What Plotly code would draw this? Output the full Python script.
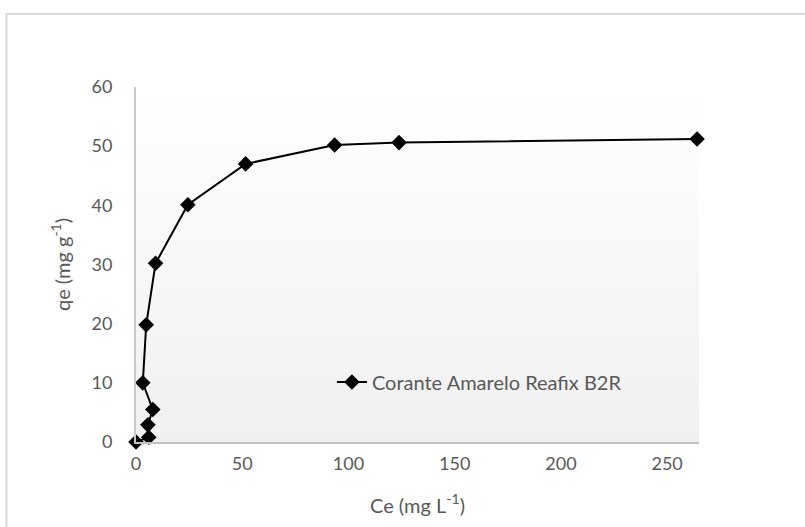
import plotly.graph_objects as go

# Data
ce = [0.0, 6.0, 5.6, 7.9, 3.2, 4.8, 9.2, 24.4, 51.6, 93.5, 123.8, 264.1]
qe = [0.0, 0.8, 2.9, 5.5, 10.0, 19.8, 30.2, 40.1, 47.0, 50.2, 50.6, 51.2]
series_name = "Corante Amarelo Reafix B2R"
x_ticks = [0, 50, 100, 150, 200, 250]
y_ticks = [0, 10, 20, 30, 40, 50, 60]

FONT = "Lato"
GRAY = "#595959"

fig = go.Figure()
fig.add_trace(go.Scatter(
    x=ce, y=qe, mode="lines+markers", name=series_name,
    line=dict(color="black", width=2),
    marker=dict(symbol="diamond", size=12, color="black"),
    cliponaxis=False,
))

# gradient background of plot area (white -> light gray)
shapes = []
n = 60
for i in range(n):
    t = i / (n - 1)
    v = int(round(255 - (255 - 240) * (1 - t)))
    shapes.append(dict(type="rect", xref="paper", yref="paper",
                       x0=0, x1=1, y0=i / n, y1=(i + 1) / n,
                       fillcolor=f"rgb({v},{v},{v})", line=dict(width=0),
                       layer="below"))
# outer chart border
shapes.append(dict(type="rect", xref="paper", yref="paper",
                   x0=(6.5 - 136) / 563, x1=(812 - 136) / 563,
                   y0=(442 - 535) / 355, y1=(442 - 14) / 355,
                   line=dict(color="#d9d9d9", width=2), fillcolor="rgba(0,0,0,0)",
                   layer="below"))

fig.update_layout(
    width=805, height=527,
    margin=dict(l=136, r=106, t=87, b=85),
    paper_bgcolor="white", plot_bgcolor="rgba(0,0,0,0)",
    font=dict(family=FONT, size=18, color=GRAY),
    shapes=shapes,
    showlegend=True,
    legend=dict(x=0.348, y=0.169, xanchor="left", yanchor="middle",
                bgcolor="rgba(0,0,0,0)", font=dict(size=20, color=GRAY)),
    xaxis=dict(range=[0, 265], tickvals=x_ticks, showgrid=False, zeroline=False,
               showline=True, linecolor="#c0c0c0", linewidth=2,
               ticks="outside", ticklen=4, tickcolor="rgba(0,0,0,0)",
               tickfont=dict(size=18, color=GRAY),
               title=dict(text="Ce (mg L<sup>-1</sup>)", standoff=26,
                          font=dict(size=20, color=GRAY))),
    yaxis=dict(range=[0, 60], tickvals=y_ticks, showgrid=False, zeroline=False,
               showline=True, linecolor="#c8c8c8", linewidth=2,
               ticks="outside", ticklen=18, tickcolor="rgba(0,0,0,0)",
               tickfont=dict(size=18, color=GRAY),
               title=dict(text="qe (mg g<sup>-1</sup>)", standoff=16,
                          font=dict(size=20, color=GRAY))),
)

fig.write_html("out.html")
